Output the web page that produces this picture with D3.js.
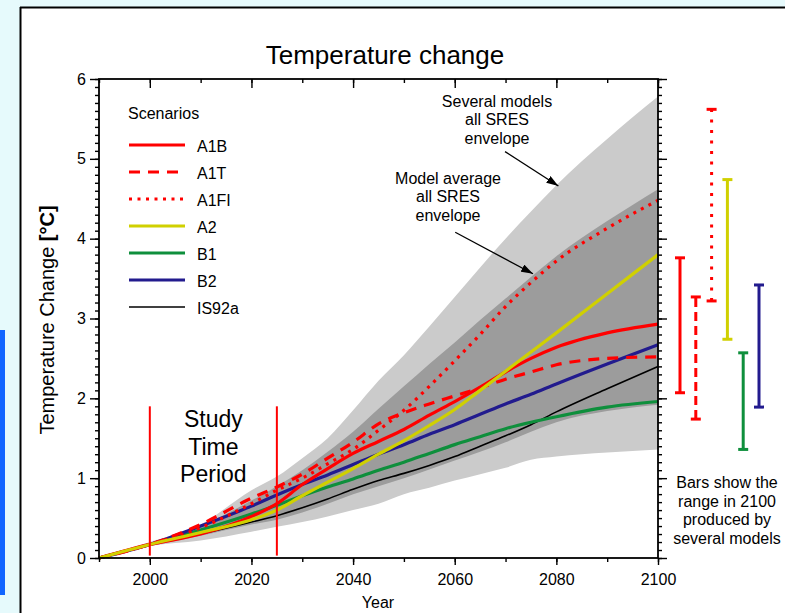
<!DOCTYPE html>
<html>
<head>
<meta charset="utf-8">
<script src="https://cdn.jsdelivr.net/npm/d3@7"></script>
<style>
  body { margin: 0; background: #e6fafc; }
  svg { display: block; font-family: 'Liberation Sans', Arial, Helvetica, sans-serif; }
</style>
</head>
<body>
<div id="viz"></div>
<script>
const years = [1990, 2000, 2010, 2020, 2025, 2030, 2035, 2040, 2045, 2050, 2055, 2060, 2065, 2070, 2075, 2080, 2090, 2100];

const a1b   = [0, 0.17, 0.30, 0.52, 0.68, 0.92, 1.12, 1.31, 1.46, 1.61, 1.79, 1.96, 2.14, 2.33, 2.50, 2.64, 2.82, 2.93];
const a1t   = [0, 0.17, 0.42, 0.75, 0.89, 1.05, 1.25, 1.45, 1.68, 1.82, 1.93, 2.03, 2.13, 2.24, 2.33, 2.42, 2.50, 2.52];
const a1fi  = [0, 0.17, 0.38, 0.68, 0.85, 1.00, 1.18, 1.36, 1.60, 1.85, 2.15, 2.47, 2.80, 3.15, 3.45, 3.72, 4.13, 4.48];
const a2    = [0, 0.17, 0.32, 0.48, 0.60, 0.78, 0.95, 1.12, 1.30, 1.47, 1.66, 1.86, 2.10, 2.34, 2.58, 2.82, 3.31, 3.80];
const b1    = [0, 0.17, 0.35, 0.55, 0.66, 0.78, 0.89, 0.99, 1.10, 1.20, 1.31, 1.42, 1.52, 1.62, 1.70, 1.77, 1.89, 1.96];
const b2    = [0, 0.17, 0.40, 0.65, 0.79, 0.92, 1.04, 1.17, 1.30, 1.42, 1.55, 1.67, 1.80, 1.93, 2.05, 2.18, 2.43, 2.67];
const is92a = [0, 0.17, 0.30, 0.45, 0.53, 0.63, 0.74, 0.86, 0.97, 1.06, 1.16, 1.27, 1.40, 1.53, 1.67, 1.83, 2.12, 2.40];

// envelopes
const outerHigh = [0, 0.20, 0.42, 0.85, 1.02, 1.25, 1.50, 1.85, 2.22, 2.54, 2.90, 3.27, 3.64, 4.00, 4.34, 4.67, 5.25, 5.78];
const outerLow  = [0, 0.15, 0.22, 0.33, 0.39, 0.45, 0.52, 0.60, 0.68, 0.80, 0.88, 0.97, 1.05, 1.13, 1.23, 1.27, 1.32, 1.36];
const innerHigh = [0, 0.18, 0.40, 0.72, 0.90, 1.10, 1.33, 1.58, 1.87, 2.15, 2.43, 2.70, 2.98, 3.25, 3.52, 3.78, 4.22, 4.62];
const innerLow  = [0, 0.15, 0.28, 0.42, 0.48, 0.57, 0.68, 0.80, 0.90, 1.00, 1.11, 1.22, 1.33, 1.45, 1.58, 1.70, 1.84, 1.92];

const scenarios = ['A1B', 'A1T', 'A1FI', 'A2', 'B1', 'B2', 'IS92a'];
const seriesValues = [a1b, a1t, a1fi, a2, b1, b2, is92a];

// ranges in 2100
const barScenarios = ['A1B', 'A1T', 'A1FI', 'A2', 'B1', 'B2'];
const barLow  = [2.07, 1.74, 3.22, 2.74, 1.36, 1.89];
const barHigh = [3.76, 3.27, 5.62, 4.74, 2.57, 3.42];

const studyYears = [2000, 2025];
const studyRange = [0.03, 1.9];

const xTicks = [2000, 2020, 2040, 2060, 2080, 2100];
const yTicks = [0, 1, 2, 3, 4, 5, 6];

const style = {
  A1B:   {color: '#ff0000', width: 3.2, dash: null},
  A1T:   {color: '#ff0000', width: 3.2, dash: '11,8'},
  A1FI:  {color: '#ff0000', width: 3.2, dash: '3,5.5'},
  A2:    {color: '#d0d000', width: 3.2, dash: null},
  B1:    {color: '#0e8f3c', width: 3.2, dash: null},
  B2:    {color: '#221b8e', width: 3.2, dash: null},
  IS92a: {color: '#000000', width: 1.6, dash: null}
};
const barDash = {A1B: null, A1T: '9,5', A1FI: '3,7.5', A2: null, B1: null, B2: null};

const W = 785, H = 613;
const plot = {left: 99, right: 658, top: 79, bottom: 558};

const svg = d3.select('#viz').append('svg')
    .attr('width', W)
    .attr('height', H);

// slide background bits
svg.append('rect').attr('x', 0).attr('y', 0).attr('width', W).attr('height', H).attr('fill', '#e6fafc');
svg.append('rect').attr('x', 21).attr('y', 8).attr('width', W - 21).attr('height', H - 8).attr('fill', '#ffffff');
svg.append('rect').attr('x', 0).attr('y', 330).attr('width', 5).attr('height', 265).attr('fill', '#1166ff');
svg.append('line').attr('x1', 20).attr('x2', W).attr('y1', 7.5).attr('y2', 7.5).attr('stroke', '#000').attr('stroke-width', 2);
svg.append('line').attr('x1', 20.5).attr('x2', 20.5).attr('y1', 7).attr('y2', H).attr('stroke', '#000').attr('stroke-width', 2);

const x = d3.scaleLinear().domain([1990, 2100]).range([plot.left, plot.right]);
const y = d3.scaleLinear().domain([0, 6]).range([plot.bottom, plot.top]);

const rows = years.map((yr, i) => ({year: yr, oh: outerHigh[i], ol: outerLow[i], ih: innerHigh[i], il: innerLow[i]}));

const g = svg.append('g');

g.append('path')
    .datum(rows)
    .attr('fill', '#cbcbcb')
    .attr('d', d3.area().curve(d3.curveMonotoneX)
        .x(d => x(d.year)).y0(d => y(d.ol)).y1(d => y(d.oh)));

g.append('path')
    .datum(rows)
    .attr('fill', '#9c9c9c')
    .attr('d', d3.area().curve(d3.curveMonotoneX)
        .x(d => x(d.year)).y0(d => y(d.il)).y1(d => y(d.ih)));

const line = d3.line().curve(d3.curveMonotoneX)
    .x(d => x(d[0]))
    .y(d => y(d[1]));

const drawOrder = ['IS92a', 'B1', 'B2', 'A1FI', 'A1T', 'A1B', 'A2'];
drawOrder.forEach(function(name) {
    const vals = seriesValues[scenarios.indexOf(name)];
    const s = style[name];
    g.append('path')
        .datum(years.map((yr, i) => [yr, vals[i]]))
        .attr('fill', 'none')
        .attr('stroke', s.color)
        .attr('stroke-width', s.width)
        .attr('stroke-dasharray', s.dash)
        .attr('d', line);
});

// study time period
g.selectAll('.study')
    .data(studyYears)
    .enter().append('line')
    .attr('x1', d => x(d)).attr('x2', d => x(d))
    .attr('y1', y(studyRange[0])).attr('y2', y(studyRange[1]))
    .attr('stroke', '#ff0000')
    .attr('stroke-width', 2);

g.append('text')
    .attr('x', (x(studyYears[0]) + x(studyYears[1])) / 2)
    .attr('y', 427)
    .attr('text-anchor', 'middle')
    .style('font-size', '23px')
    .selectAll('tspan')
    .data(['Study', 'Time', 'Period'])
    .enter().append('tspan')
    .attr('x', (x(studyYears[0]) + x(studyYears[1])) / 2)
    .attr('dy', (d, i) => i ? 27.5 : 0)
    .text(d => d);

// axes
const minorX = d3.range(1990, 2101, 10);
const minorY = d3.range(0, 60.5, 1).map(d => d / 10);

function styleAxis(sel) {
    sel.select('.domain').remove();
    sel.selectAll('line').attr('stroke', '#000').attr('stroke-width', 1.4);
    sel.selectAll('text').style('font-size', '16px').attr('fill', '#000');
}

g.append('g').attr('transform', `translate(0,${plot.bottom})`)
    .call(d3.axisBottom(x).tickValues(minorX).tickSize(4).tickFormat(''))
    .call(styleAxis);
g.append('g').attr('transform', `translate(0,${plot.bottom})`)
    .call(d3.axisBottom(x).tickValues(xTicks).tickSize(7).tickPadding(9).tickFormat(d3.format('d')))
    .call(styleAxis);

g.append('g').attr('transform', `translate(0,${plot.top})`)
    .call(d3.axisTop(x).tickValues(minorX).tickSize(-4).tickFormat(''))
    .call(styleAxis);
g.append('g').attr('transform', `translate(0,${plot.top})`)
    .call(d3.axisTop(x).tickValues(xTicks).tickSize(-9).tickFormat(''))
    .call(styleAxis);

g.append('g').attr('transform', `translate(${plot.left},0)`)
    .call(d3.axisLeft(y).tickValues(minorY).tickSize(4).tickFormat(''))
    .call(styleAxis);
g.append('g').attr('transform', `translate(${plot.left},0)`)
    .call(d3.axisLeft(y).tickValues(yTicks).tickSize(9).tickPadding(4).tickFormat(d3.format('d')))
    .call(styleAxis);

g.append('g').attr('transform', `translate(${plot.right},0)`)
    .call(d3.axisRight(y).tickValues(minorY).tickSize(4).tickFormat(''))
    .call(styleAxis);
g.append('g').attr('transform', `translate(${plot.right},0)`)
    .call(d3.axisRight(y).tickValues(yTicks).tickSize(9).tickFormat(''))
    .call(styleAxis);

g.append('rect')
    .attr('x', plot.left).attr('y', plot.top)
    .attr('width', plot.right - plot.left).attr('height', plot.bottom - plot.top)
    .attr('fill', 'none').attr('stroke', '#000').attr('stroke-width', 1.8);

// titles
svg.append('text')
    .attr('x', 385).attr('y', 64)
    .attr('text-anchor', 'middle')
    .style('font-size', '26px')
    .text('Temperature change');

svg.append('text')
    .attr('x', 378).attr('y', 608)
    .attr('text-anchor', 'middle')
    .style('font-size', '16px')
    .text('Year');

const yLab = svg.append('text')
    .attr('transform', 'translate(54,320) rotate(-90)')
    .attr('text-anchor', 'middle')
    .style('font-size', '20px');
yLab.append('tspan').text('Temperature Change ');
yLab.append('tspan').style('font-weight', 'bold').text('[°C]');

// legend
const legend = svg.append('g');
legend.append('text')
    .attr('x', 128).attr('y', 119)
    .style('font-size', '16px')
    .text('Scenarios');

const item = legend.selectAll('.item')
    .data(scenarios)
    .enter().append('g')
    .attr('transform', (d, i) => `translate(0,${145 + i * 27})`);
item.append('line')
    .attr('x1', 129).attr('x2', 185)
    .attr('stroke', d => style[d].color)
    .attr('stroke-width', d => style[d].width)
    .attr('stroke-dasharray', d => style[d].dash);
item.append('text')
    .attr('x', 197).attr('y', 7)
    .style('font-size', '16px')
    .text(d => d);

// annotations with arrows
svg.append('defs').append('marker')
    .attr('id', 'head')
    .attr('viewBox', '0 0 12 8')
    .attr('refX', 12).attr('refY', 4)
    .attr('markerWidth', 12).attr('markerHeight', 8)
    .attr('markerUnits', 'userSpaceOnUse')
    .attr('orient', 'auto')
    .append('path').attr('d', 'M0,0L12,4L0,8Z').attr('fill', '#000');

const notes = [
    {lines: ['Several models', 'all SRES', 'envelope'], cx: 497, top: 107, from: [2069.9, 5.09], to: [2080.4, 4.66]},
    {lines: ['Model average', 'all SRES', 'envelope'], cx: 448, top: 184, from: [2060.1, 4.08], to: [2075.4, 3.56]}
];
notes.forEach(function(n) {
    const t = svg.append('text')
        .attr('text-anchor', 'middle')
        .style('font-size', '16px');
    t.selectAll('tspan').data(n.lines).enter().append('tspan')
        .attr('x', n.cx)
        .attr('y', (d, i) => n.top + i * 18.3)
        .text(d => d);
    svg.append('line')
        .attr('x1', x(n.from[0])).attr('y1', y(n.from[1]))
        .attr('x2', x(n.to[0])).attr('y2', y(n.to[1]))
        .attr('stroke', '#000').attr('stroke-width', 1.3)
        .attr('marker-end', 'url(#head)');
});

// range bars
const bx = d3.scalePoint().domain(barScenarios).range([680, 759]);
const bars = svg.append('g').selectAll('.bar')
    .data(barScenarios.map((d, i) => ({name: d, lo: barLow[i], hi: barHigh[i]})))
    .enter().append('g');
bars.append('line')
    .attr('x1', d => bx(d.name)).attr('x2', d => bx(d.name))
    .attr('y1', d => y(d.lo)).attr('y2', d => y(d.hi))
    .attr('stroke', d => style[d.name].color)
    .attr('stroke-width', 3)
    .attr('stroke-dasharray', d => barDash[d.name]);
['lo', 'hi'].forEach(function(k) {
    bars.append('line')
        .attr('x1', d => bx(d.name) - 5).attr('x2', d => bx(d.name) + 5)
        .attr('y1', d => y(d[k])).attr('y2', d => y(d[k]))
        .attr('stroke', d => style[d.name].color)
        .attr('stroke-width', 3);
});

svg.append('text')
    .attr('text-anchor', 'middle')
    .style('font-size', '16px')
    .selectAll('tspan')
    .data(['Bars show the', 'range in 2100', 'produced by', 'several models'])
    .enter().append('tspan')
    .attr('x', 727)
    .attr('y', (d, i) => 488 + i * 18.6)
    .text(d => d);
</script>
</body>
</html>
